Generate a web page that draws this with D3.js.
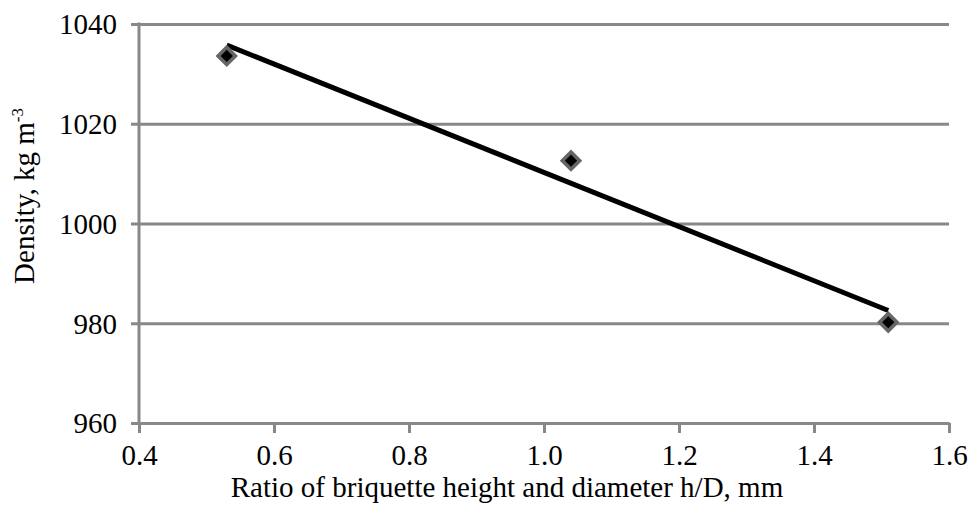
<!DOCTYPE html>
<html>
<head>
<meta charset="utf-8">
<script src="https://cdn.jsdelivr.net/npm/d3@7"></script>
<style>
  body { margin: 0; background: #fff; }
  svg { display: block; }
  svg text { font-family: 'Liberation Serif', 'Times New Roman', Tinos, 'DejaVu Serif', serif !important; fill: #000; }
</style>
</head>
<body>
<script>
// data
var ratioHD = [0.53, 1.04, 1.51];        // h/D
var density = [1033.6, 1012.6, 980.2];   // kg m-3
var xTicks = [0.4, 0.6, 0.8, 1.0, 1.2, 1.4, 1.6];
var yTicks = [960, 980, 1000, 1020, 1040];

var width = 972, height = 514;
var margin = {top: 24, right: 23, bottom: 91, left: 139};
var gridColor = '#888888';
var serif = "'Liberation Serif', 'Times New Roman', Tinos, 'DejaVu Serif', serif";
var fs = 29;

var svg = d3.select('body').append('svg')
    .attr('width', width)
    .attr('height', height)
    .attr('font-family', serif);

var x = d3.scaleLinear().domain([0.4, 1.6]).range([margin.left, width - margin.right]);
var y = d3.scaleLinear().domain([960, 1040]).range([height - margin.bottom, margin.top]);

// horizontal gridlines + y ticks
svg.append('g')
    .attr('transform', 'translate(' + margin.left + ',0)')
    .call(d3.axisLeft(y).tickValues(yTicks).tickFormat(d3.format('d'))
        .tickSize(-(width - margin.left - margin.right)).tickPadding(22))
    .attr('font-family', serif)
    .call(g => g.select('.domain').remove())
    .call(g => g.selectAll('.tick line')
        .attr('x1', -8)
        .attr('stroke', gridColor).attr('stroke-width', 3))
    .call(g => g.selectAll('.tick text').attr('font-size', fs).attr('dy', '0.34em'));

// left axis line
svg.append('line')
    .attr('x1', margin.left).attr('x2', margin.left)
    .attr('y1', y(1040) - 1.5).attr('y2', y(960) + 1.5)
    .attr('stroke', gridColor).attr('stroke-width', 3);

// x axis
svg.append('g')
    .attr('transform', 'translate(0,' + y(960) + ')')
    .call(d3.axisBottom(x).tickValues(xTicks).tickFormat(d3.format('.1f'))
        .tickSize(10).tickSizeOuter(0).tickPadding(11))
    .attr('font-family', serif)
    .call(g => g.select('.domain').attr('stroke', gridColor).attr('stroke-width', 3))
    .call(g => g.selectAll('.tick line').attr('stroke', gridColor).attr('stroke-width', 3))
    .call(g => g.selectAll('.tick text').attr('font-size', fs));

// linear trend line through the points
var pts = ratioHD.map((d, i) => ({x: d, y: density[i]}));
var mx = d3.mean(pts, d => d.x), my = d3.mean(pts, d => d.y);
var slope = d3.sum(pts, d => (d.x - mx) * (d.y - my)) / d3.sum(pts, d => (d.x - mx) ** 2);
var x0 = d3.min(ratioHD), x1 = d3.max(ratioHD);
var trend = [{x: x0, y: my + slope * (x0 - mx)}, {x: x1, y: my + slope * (x1 - mx)}];

svg.append('path')
    .attr('d', d3.line().x(d => x(d.x)).y(d => y(d.y))(trend))
    .attr('fill', 'none')
    .attr('stroke', '#000')
    .attr('stroke-width', 5);

// diamond markers
svg.selectAll('.pt').data(pts).enter().append('path')
    .attr('class', 'pt')
    .attr('transform', d => 'translate(' + x(d.x) + ',' + y(d.y) + ') rotate(45)')
    .attr('d', d3.symbol().type(d3.symbolSquare).size(150))
    .attr('fill', '#000')
    .attr('stroke', '#666666')
    .attr('stroke-width', 3.6);

// axis titles
svg.append('text')
    .attr('x', 507).attr('y', 497)
    .attr('text-anchor', 'middle')
    .attr('font-size', fs)
    .text('Ratio of briquette height and diameter h/D, mm');

var yt = svg.append('text')
    .attr('transform', 'translate(34,196) rotate(-90)')
    .attr('text-anchor', 'middle')
    .attr('font-size', fs);
yt.append('tspan').text('Density, kg m');
yt.append('tspan').attr('font-size', 17).attr('dy', -11).text('-3');
</script>
</body>
</html>
